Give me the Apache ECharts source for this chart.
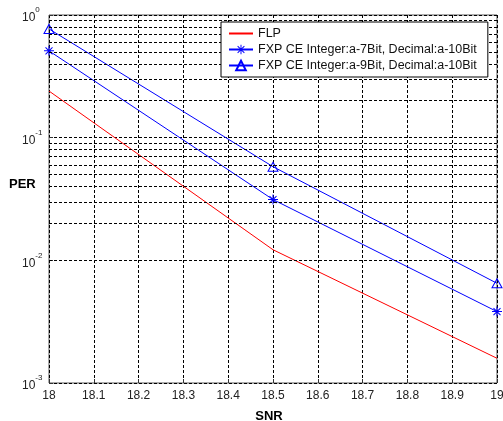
<!DOCTYPE html>
<html><head><meta charset="utf-8">
<script src="https://cdn.jsdelivr.net/npm/echarts@6/dist/echarts.min.js"></script>
<style>html,body{margin:0;padding:0;background:#fff}#c{width:503px;height:421px}</style>
</head><body><div id="c"></div>
<script>
const snr = [18, 18.5, 19];
const flp = [0.24, 0.0122, 0.00159];
const fxp7 = [0.51, 0.0313, 0.00382];
const fxp9 = [0.77, 0.058, 0.0065];
const seriesNames = ['FLP', 'FXP CE Integer:a-7Bit, Decimal:a-10Bit', 'FXP CE Integer:a-9Bit, Decimal:a-10Bit'];
const minorY = [0.002,0.003,0.004,0.005,0.006,0.007,0.008,0.009,
                0.02,0.03,0.04,0.05,0.06,0.07,0.08,0.09,
                0.2,0.3,0.4,0.5,0.6,0.7,0.8,0.9];
const xTicks = {min: 18, max: 19, step: 0.1};
const xName = 'SNR';
const yName = 'PER';

const FONT = '"Liberation Sans", Arial, sans-serif';
const dash = {type: [3, 2], color: '#000', width: 1};
const starPath = 'path://M0 9H20V11H0Z M9 0H11V20H9Z M2.3 3.7L3.7 2.3L17.7 16.3L16.3 17.7Z M16.3 2.3L17.7 3.7L3.7 17.7L2.3 16.3Z';

const chart = echarts.init(document.getElementById('c'), null, {renderer: 'canvas'});
chart.setOption({
  animation: false,
  backgroundColor: '#fff',
  textStyle: {fontFamily: FONT},
  grid: {left: 49, right: 6, top: 15, bottom: 38, containLabel: false, outerBoundsMode: 'none',
         show: true, borderColor: '#555', borderWidth: 1, backgroundColor: 'transparent'},
  graphic: [{
    type: 'text', left: 9, top: 178, z: 10,
    style: {text: yName, font: 'bold 13px ' + FONT, fill: '#000'}
  }],
  legend: {
    data: [
      {name: seriesNames[0], itemStyle: {color: 'rgba(0,0,0,0)', borderWidth: 0}},
      seriesNames[1], seriesNames[2]
    ],
    z: 20,
    orient: 'vertical', left: 221, top: 22,
    backgroundColor: '#fff', borderColor: '#000', borderWidth: 1, borderRadius: 0,
    padding: [5, 11, 5, 7],
    itemWidth: 24, itemHeight: 12, itemGap: 3,
    textStyle: {fontFamily: FONT, fontSize: 12.5, color: '#111'}
  },
  xAxis: {
    type: 'value', min: xTicks.min, max: xTicks.max, interval: xTicks.step,
    name: xName, nameLocation: 'middle', nameGap: 27,
    nameTextStyle: {fontFamily: FONT, fontSize: 13, fontWeight: 'bold', color: '#000', padding: [0, 8, 0, 0]},
    axisLine: {show: false},
    axisTick: {show: true, inside: true, length: 4, lineStyle: {color: '#333'}},
    axisLabel: {fontFamily: FONT, fontSize: 12, color: '#222', margin: 7},
    splitLine: {show: true, lineStyle: dash}
  },
  yAxis: {
    type: 'log', logBase: 10, min: 0.001, max: 1,
    axisLine: {show: false},
    axisTick: {show: true, inside: true, length: 4, lineStyle: {color: '#333'}},
    axisLabel: {
      align: 'left', margin: 27,
      formatter: v => '{b|10}{s|' + Math.round(Math.log10(v)) + '}',
      rich: {
        b: {fontFamily: FONT, fontSize: 12, color: '#222', lineHeight: 18, verticalAlign: 'bottom'},
        s: {fontFamily: FONT, fontSize: 8, color: '#222', verticalAlign: 'top'}
      }
    },
    splitLine: {show: true, lineStyle: dash}
  },
  series: [
    {
      name: 'grid', type: 'line', data: [], z: 1, silent: true,
      markLine: {
        silent: true, symbol: ['none', 'none'], label: {show: false},
        lineStyle: dash, animation: false,
        data: minorY.map(v => ({yAxis: v}))
      }
    },
    {
      name: seriesNames[0], type: 'line', z: 3,
      data: snr.map((x, i) => [x, flp[i]]),
      showSymbol: false, symbol: 'none',
      lineStyle: {color: '#ff0000', width: 1},
      itemStyle: {color: '#ff0000'}
    },
    {
      name: seriesNames[1], type: 'line', z: 3,
      data: snr.map((x, i) => [x, fxp7[i]]),
      symbol: starPath, symbolSize: 10,
      lineStyle: {color: '#0000ff', width: 1},
      itemStyle: {color: '#0000ff', borderWidth: 0}
    },
    {
      name: seriesNames[2], type: 'line', z: 3,
      data: snr.map((x, i) => [x, fxp9[i]]),
      symbol: 'triangle', symbolSize: [10, 9],
      lineStyle: {color: '#0000ff', width: 1},
      itemStyle: {color: 'rgba(0,0,0,0)', borderColor: '#0000ff', borderWidth: 1}
    }
  ]
});
</script></body></html>
